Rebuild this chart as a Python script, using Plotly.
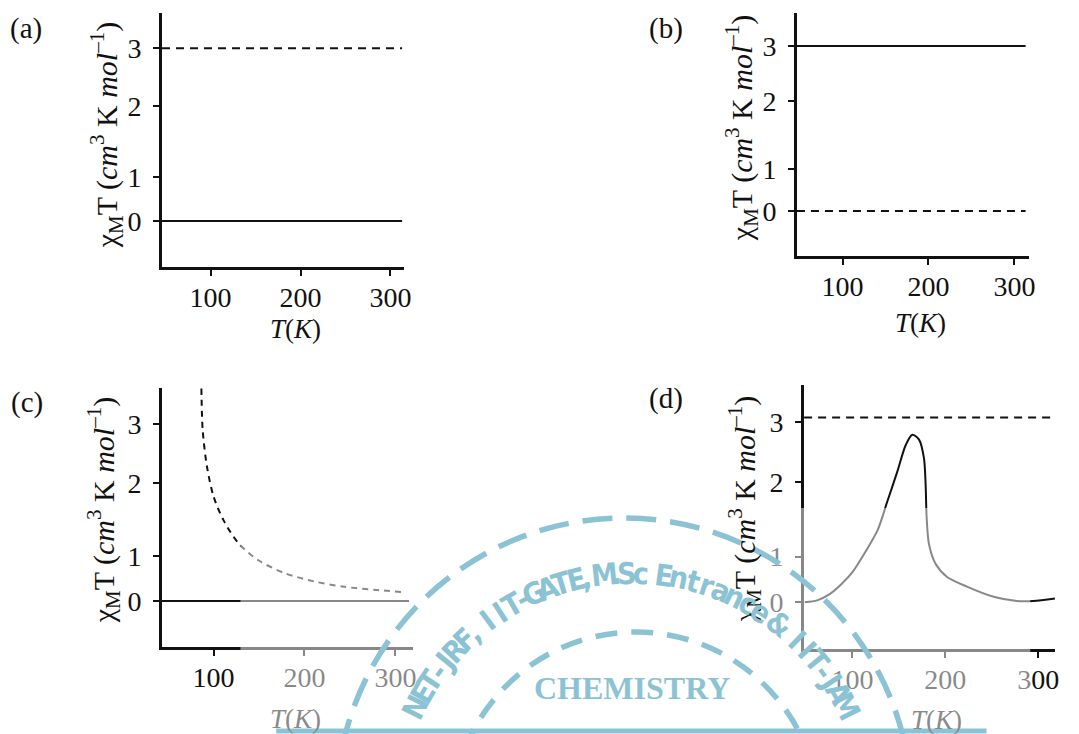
import math
import plotly.graph_objects as go

W, H = 1079, 734

# ---------------- data ----------------
x_ticks = [100, 200, 300]
x_tick_text = ["100", "200", "300"]
y_tick_pos = [0, 0.76, 2, 3]
y_tick_text = ["0", "1", "2", "3"]

# (a)
a_T = [46, 313]
a_solid = [0, 0]
a_dashed = [3, 3]
# (b)
b_T = [47, 313]
b_solid = [3, 3]
b_dashed = [0, 0]
# (c)
c_T_line = [43, 315]
c_solid = [0, 0]
c_T_curve = [86.6, 88, 92.7, 100, 110.9, 127.3, 149.2, 178.4, 211, 244, 276.7, 307.7]
c_curve = [3.6, 2.9, 2.28, 1.77, 1.37, 0.98, 0.69, 0.47, 0.33, 0.24, 0.19, 0.15]
# (d)
d_T_line = [48, 313]
d_dashed = [3.08, 3.08]
d_T_curve = [48.7, 62, 75, 88, 100, 114, 127.1, 137.8, 148.4, 157.4, 164.5, 171.7, 177,
             178.8, 179.9, 182.4, 189.5, 201.9, 223.3, 252, 277, 294.7, 318]
d_curve = [0.0, 0.03, 0.13, 0.3, 0.5, 0.84, 1.2, 1.69, 2.18, 2.62, 2.79, 2.71, 2.40,
           1.96, 1.41, 0.97, 0.64, 0.42, 0.26, 0.09, 0.02, 0.02, 0.06]

panel_labels = ["(a)", "(b)", "(c)", "(d)"]
y_title = "χ<sub>M</sub>T (<i>cm</i><sup>3</sup> K <i>mol</i><sup>–1</sup>)"
x_title = "<i>T</i>(<i>K</i>)"
wm_arc_text = "NET-JRF, IIT-GATE, M.Sc Entrance & IIT-JAM"
wm_center_text = "CHEMISTRY"

# ---------------- layout helpers ----------------
def px(x):
    return x / W

def py(y):
    return 1 - y / H

SERIF = "Liberation Serif, Times New Roman, serif"
BLACK = "#111111"
WM = "#8cc3d4"

# panel pixel boxes: (left, right, top, bottom), x range, y range
panels = [
    dict(box=(163, 407, 13, 267), xr=[45.9, 315.5], yr=[-0.80, 3.61]),
    dict(box=(802, 1036, 13, 256), xr=[46.8, 317.3], yr=[-0.82, 3.60]),
    dict(box=(163, 416, 388, 647), xr=[43.2, 319.7], yr=[-0.78, 3.61]),
    dict(box=(809, 1062, 385, 649), xr=[47.6, 318.2], yr=[-0.78, 3.62]),
]

fig = go.Figure()

line_solid = dict(color=BLACK, width=2)
line_dash = dict(color=BLACK, width=2, dash="8px,6px")
line_dash_c = dict(color=BLACK, width=2, dash="6px,5px")

traces = [
    (1, a_T, a_solid, line_solid, "linear"),
    (1, a_T, a_dashed, line_dash, "linear"),
    (2, b_T, b_solid, line_solid, "linear"),
    (2, b_T, b_dashed, line_dash, "linear"),
    (3, c_T_line, c_solid, line_solid, "linear"),
    (3, c_T_curve, c_curve, line_dash_c, "spline"),
    (4, d_T_line, d_dashed, line_dash, "linear"),
    (4, d_T_curve, d_curve, line_solid, "spline"),
]
for i, x, y, ln, shape in traces:
    suffix = "" if i == 1 else str(i)
    ln = dict(ln)
    ln["shape"] = shape
    if shape == "spline":
        ln["smoothing"] = 0.8
    fig.add_trace(go.Scatter(x=x, y=y, mode="lines", line=ln, showlegend=False,
                             hoverinfo="skip", xaxis="x" + suffix, yaxis="y" + suffix))

layout = dict(
    width=W, height=H, margin=dict(l=0, r=0, t=0, b=0),
    paper_bgcolor="white", plot_bgcolor="white", showlegend=False,
    font=dict(family=SERIF, color=BLACK),
)
axis_common = dict(showline=True, linecolor=BLACK, linewidth=2.5, showgrid=False,
                   zeroline=False, ticks="outside", ticklen=6, tickwidth=2,
                   tickcolor=BLACK, tickfont=dict(family=SERIF, size=28, color=BLACK),
                   fixedrange=True)
for k, p in enumerate(panels):
    l, r, t, b = p["box"]
    suffix = "" if k == 0 else str(k + 1)
    layout["xaxis" + suffix] = dict(axis_common, domain=[px(l), px(r)], range=p["xr"],
                                    tickvals=x_ticks, ticktext=x_tick_text,
                                    anchor="y" + suffix, ticklabelstandoff=-2)
    layout["yaxis" + suffix] = dict(axis_common, domain=[py(b), py(t)], range=p["yr"],
                                    tickvals=y_tick_pos, ticktext=y_tick_text,
                                    anchor="x" + suffix, ticklabelstandoff=6)
fig.update_layout(**layout)

ann = []
# panel letters
for lab, (x, y) in zip(panel_labels, [(26, 28), (670, 28), (27, 403), (670, 398)]):
    ann.append(dict(text=lab, x=px(x), y=py(y), xref="paper", yref="paper",
                    xanchor="center", yanchor="middle", showarrow=False,
                    font=dict(family=SERIF, size=29, color=BLACK)))
# y titles
for (x, y) in [(107, 135), (746, 128), (104, 510), (749, 509)]:
    ann.append(dict(text=y_title, x=px(x), y=py(y), xref="paper", yref="paper",
                    xanchor="center", yanchor="middle", showarrow=False, textangle=-90,
                    font=dict(family=SERIF, size=30, color=BLACK)))
# x titles
for (x, y, col) in [(297, 329, BLACK), (927, 323, BLACK), (297, 719, "#8a8a8a"), (943, 720, "#8a8a8a")]:
    ann.append(dict(text=x_title, x=px(x), y=py(y), xref="paper", yref="paper",
                    xanchor="center", yanchor="middle", showarrow=False,
                    font=dict(family=SERIF, size=27, color=col)))

# ---------------- watermark ----------------
shapes = []
shapes.append(dict(type="rect", xref="paper", yref="paper", layer="above",
                   x0=px(242), x1=px(1037), y0=py(734), y1=py(508),
                   fillcolor="rgba(255,255,255,0.5)", line=dict(width=0)))
for (cx, cy, r, dash) in [(628, 808, 290, "30px,14px"), (640, 817, 185, "22px,14px")]:
    shapes.append(dict(type="circle", xref="paper", yref="paper", layer="above",
                       x0=px(cx - r), x1=px(cx + r), y0=py(cy + r), y1=py(cy - r),
                       line=dict(color=WM, width=5.5, dash=dash)))
shapes.append(dict(type="line", xref="paper", yref="paper", layer="above",
                   x0=px(278), x1=px(993), y0=py(731), y1=py(731),
                   line=dict(color=WM, width=5)))
fig.update_layout(shapes=shapes)

# arc text letters
widths = []
for ch in wm_arc_text:
    if ch in ".,":
        widths.append(0.45)
    elif ch == " ":
        widths.append(0.55)
    elif ch == "-":
        widths.append(0.6)
    else:
        widths.append(1.0)
total = sum(widths) - widths[0] / 2 - widths[-1] / 2
a0, a1 = -63.4, 63.4
acc = 0
cxa, cya, ra = 635, 815, 242
for i, ch in enumerate(wm_arc_text):
    if i > 0:
        acc += widths[i - 1] / 2 + widths[i] / 2
    phi = a0 + (a1 - a0) * acc / total
    if ch == " ":
        continue
    x = cxa + ra * math.sin(math.radians(phi))
    y = cya - ra * math.cos(math.radians(phi))
    ann.append(dict(text="<b>" + ch + "</b>", x=px(x), y=py(y), xref="paper", yref="paper",
                    xanchor="center", yanchor="middle", showarrow=False, textangle=phi,
                    font=dict(family="Liberation Sans Narrow, DejaVu Sans Condensed, Roboto Condensed, sans-serif",
                              size=30, color=WM)))
ann.append(dict(text="<b>" + wm_center_text + "</b>", x=px(636), y=py(688), xref="paper",
                yref="paper", xanchor="center", yanchor="middle", showarrow=False,
                font=dict(family=SERIF, size=32, color=WM)))

fig.update_layout(annotations=ann)
fig.write_html("out.html", config={"displayModeBar": False},
               post_script="document.body.style.margin='0';document.body.style.padding='0';")
